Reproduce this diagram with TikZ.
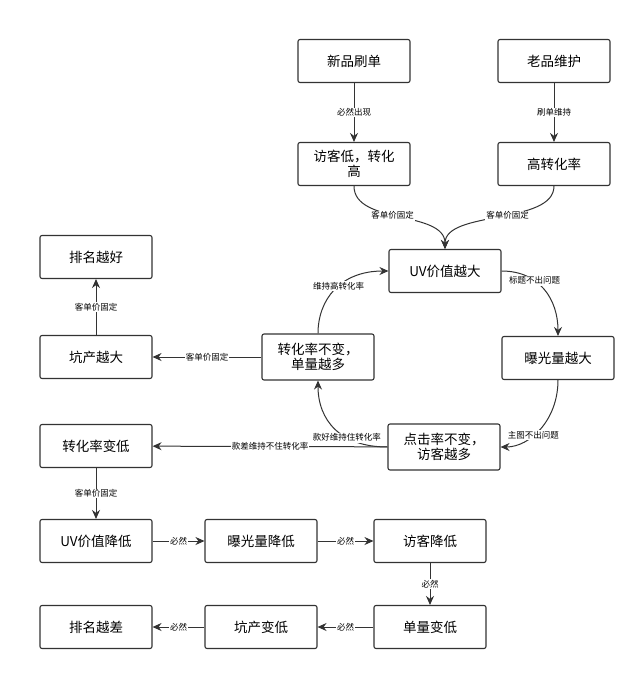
\documentclass[tikz,border=0pt]{standalone}
\usepackage{fontspec}
\setmainfont{Noto Sans CJK SC}
\usetikzlibrary{arrows.meta}
\begin{document}
\begin{tikzpicture}[x=1pt,y=-1pt,
  box/.style={draw=black!80,line width=1.1pt,rounded corners=2pt,minimum width=112pt,minimum height=43pt,align=center,font=\fontsize{13.5}{15}\selectfont,inner sep=2pt},
  con/.style={line width=1pt,draw=black!80,-{Stealth[length=9pt,width=8pt]}},
  lab/.style={fill=white,font=\fontsize{8.5}{10}\selectfont,inner sep=1pt}]
\useasboundingbox[fill=white] (0,0) rectangle (640,681);
\node[box] (xp) at (354,61) {新品刷单};
\node[box] (lp) at (554,61) {老品维护};
\node[box] (fk) at (354,164) {访客低，转化\\高};
\node[box] (gz) at (554,164) {高转化率};
\node[box] (uv) at (445,271) {UV价值越大};
\node[box] (pm) at (96,257) {排名越好};
\node[box] (kc) at (96,357) {坑产越大};
\node[box,minimum height=46pt] (zh) at (318,357) {转化率不变，\\单量越多};
\node[box] (bg) at (558,358) {曝光量越大};
\node[box,minimum height=46pt] (dj) at (444,447) {点击率不变，\\访客越多};
\node[box] (zd) at (96,446) {转化率变低};
\node[box] (uvd) at (96,541) {UV价值降低};
\node[box] (bgd) at (261,541) {曝光量降低};
\node[box] (fkd) at (430,541) {访客降低};
\node[box] (dld) at (430,627) {单量变低};
\node[box] (kcd) at (261,627) {坑产变低};
\node[box] (pmd) at (96,627) {排名越差};

\draw[con] (xp) -- node[lab]{必然出现} (fk);
\draw[con] (lp) -- node[lab]{刷单维持} (gz);
\draw[con] (fk.south) .. controls (354,225) and (445,210) .. node[lab,pos=0.45]{客单价固定} (uv.north);
\draw[con] (gz.south) .. controls (554,225) and (445,210) .. node[lab,pos=0.45]{客单价固定} (uv.north);
\draw[con] (uv.east) .. controls (540,271) and (558,300) .. node[lab,pos=0.35]{标题不出问题} (bg.north);
\draw[con] (bg.south) .. controls (558,420) and (530,447) .. node[lab,pos=0.6]{主图不出问题} (dj.east);
\draw[con] (dj.west) .. controls (340,447) and (318,420) .. node[lab,pos=0.35]{款好维持住转化率} (zh.south);
\draw[con] (zh.north) .. controls (318,300) and (340,271) .. node[lab,pos=0.55]{维持高转化率} (uv.west);
\draw[con] (zh) -- node[lab]{客单价固定} (kc);
\draw[con] (kc) -- node[lab]{客单价固定} (pm);
\draw[con] (dj) -- node[lab]{款差维持不住转化率} (zd);
\draw[con] (zd) -- node[lab]{客单价固定} (uvd);
\draw[con] (uvd) -- node[lab]{必然} (bgd);
\draw[con] (bgd) -- node[lab]{必然} (fkd);
\draw[con] (fkd) -- node[lab]{必然} (dld);
\draw[con] (dld) -- node[lab]{必然} (kcd);
\draw[con] (kcd) -- node[lab]{必然} (pmd);
\end{tikzpicture}
\end{document}
